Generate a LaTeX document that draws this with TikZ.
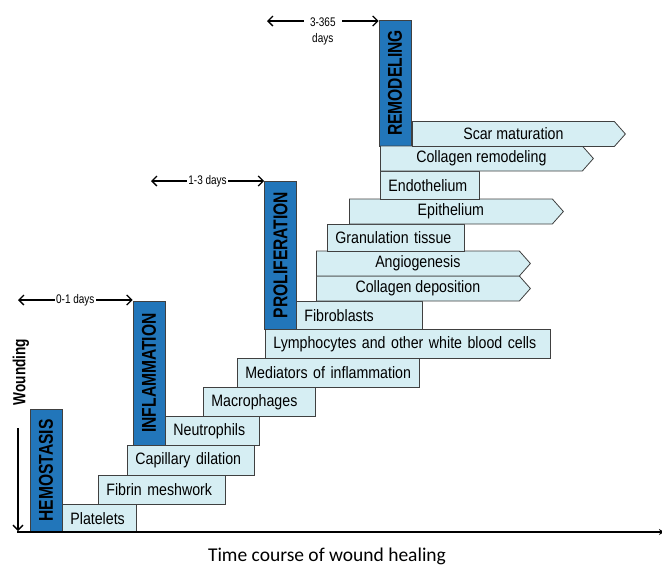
\documentclass[tikz,border=0pt]{standalone}
\usepackage{fontspec}
\setmainfont{Liberation Sans}
\newfontfamily\cellfamily[FakeStretch=0.86]{Liberation Sans}
\newfontfamily\phasefamily[FakeStretch=0.78]{Liberation Sans}
\newfontfamily\dayfamily[FakeStretch=0.8]{Liberation Sans}
\newfontfamily\titlefamily{Carlito}
\usetikzlibrary{arrows.meta,shapes.symbols}
\definecolor{phaseblue}{RGB}{34,118,186}
\definecolor{cellfill}{RGB}{214,238,243}
\definecolor{cellline}{RGB}{64,64,64}
\tikzset{
	cell/.style={draw=cellline, fill=cellfill, line width=0.8pt, anchor=north west, inner xsep=8pt, inner ysep=0pt, align=left, font=\cellfamily\fontsize{16.5}{18}\selectfont},
	tag/.style={signal, signal to=east, signal pointer angle=97, draw=cellline, fill=cellfill, line width=0.8pt, anchor=west, inner sep=0pt, minimum height=25pt, font=\cellfamily\fontsize{16.5}{18}\selectfont},
	phase/.style={draw=cellline, fill=phaseblue, line width=0.8pt, rotate=90, inner sep=0pt, minimum height=32pt, font=\phasefamily\bfseries\fontsize{20}{22}\selectfont},
	span/.style={{Straight Barb[length=5pt,width=10pt]}-{Straight Barb[length=5pt,width=10pt]}, line width=1.3pt},
	daylabel/.style={fill=white, inner xsep=1.5pt, inner ysep=1pt, align=center, font=\dayfamily\fontsize{12.5}{16}\selectfont},
}
\begin{document}
\begin{tikzpicture}[x=1pt,y=-1pt]
		%%%%% FRAME %%%%%
		\useasboundingbox (0,0) rectangle (662,568);
		
		%%%%% HEMOSTASIS %%%%%
		\node[phase, minimum width=123pt] (hemo) at (46,470.5) {HEMOSTASIS};
		\node[cell, text width=58pt, minimum height=28pt] (platelets) at (62,504) {Platelets};
		\node[cell, text width=111pt, minimum height=29pt] (fibrin) at (98,475) {Fibrin meshwork};
		\node[cell, text width=111pt, minimum height=30pt] (capillary) at (127,445) {Capillary dilation};
		
		%%%%% INFLAMMATION %%%%%
		\node[phase, minimum width=144pt] (infl) at (149,373) {INFLAMMATION};
		\node[cell, text width=78pt, minimum height=29pt] (neutro) at (165,416) {Neutrophils};
		\node[cell, text width=96pt, minimum height=29pt] (macro) at (203,387) {Macrophages};
		\node[cell, text width=166pt, minimum height=29pt] (mediators) at (237,358) {Mediators of inflammation};
		\node[cell, text width=269pt, minimum height=29pt] (lympho) at (265,329) {Lymphocytes and other white blood cells};
		
		%%%%% PROLIFERATION %%%%%
		\node[phase, minimum width=148pt] (prolif) at (280.5,255) {PROLIFERATION};
		\node[cell, text width=110pt, minimum height=28pt] (fibro) at (296,301) {Fibroblasts};
		\node[tag, minimum width=214pt] (colldep) at (316,288.5) {Collagen deposition};
		\node[tag, minimum width=214pt] (angio) at (316,263.5) {Angiogenesis};
		\node[cell, text width=121pt, minimum height=27pt] (granu) at (327,224) {Granulation tissue};
		\node[tag, minimum width=214pt] (epith) at (349,211.5) {Epithelium};
		\node[cell, text width=83pt, minimum height=28pt] (endo) at (380,171) {Endothelium};
		
		%%%%% REMODELING %%%%%
		\node[phase, minimum width=126pt] (remod) at (395,83) {REMODELING};
		\node[tag, minimum width=213pt] (collrem) at (380,158.5) {Collagen remodeling};
		\node[tag, minimum width=213pt] (scar) at (412,134) {Scar maturation};
		
		%%%%% DURATIONS %%%%%
		\coordinate (d01) at (18,300);
		\coordinate (d13) at (151,181);
		\coordinate (d3y) at (267,21);
		\draw[span] (d01) -- node[daylabel] {0-1 days} (d01 -| infl.north east);
		\draw[span] (d13) -- node[daylabel] {1-3 days} (d13 -| prolif.north east);
		\draw[span] (d3y) -- node[daylabel, anchor=north, yshift=5pt, inner xsep=6pt] {3-365\\days} (d3y -| remod.north east);
		
		%%%%% AXES %%%%%
		\coordinate (origin) at (17,532);
		\coordinate (xend) at (664,532);
		\coordinate (wtop) at (18,428);
		\coordinate (wbot) at (18,531);
		\draw[line width=1.3pt, -{Stealth[length=5pt,width=6pt]}] (origin) -- (xend);
		\draw[line width=1.3pt, -{Straight Barb[length=5pt,width=10pt]}] (wtop) -- (wbot);
		\node[rotate=90, font=\phasefamily\bfseries\fontsize{17.5}{18}\selectfont] (wound) at (21,372) {Wounding};
		\node[font=\titlefamily\fontsize{19.5}{20}\selectfont] (title) at (327,556) {Time course of wound healing};
\end{tikzpicture}
\end{document}
